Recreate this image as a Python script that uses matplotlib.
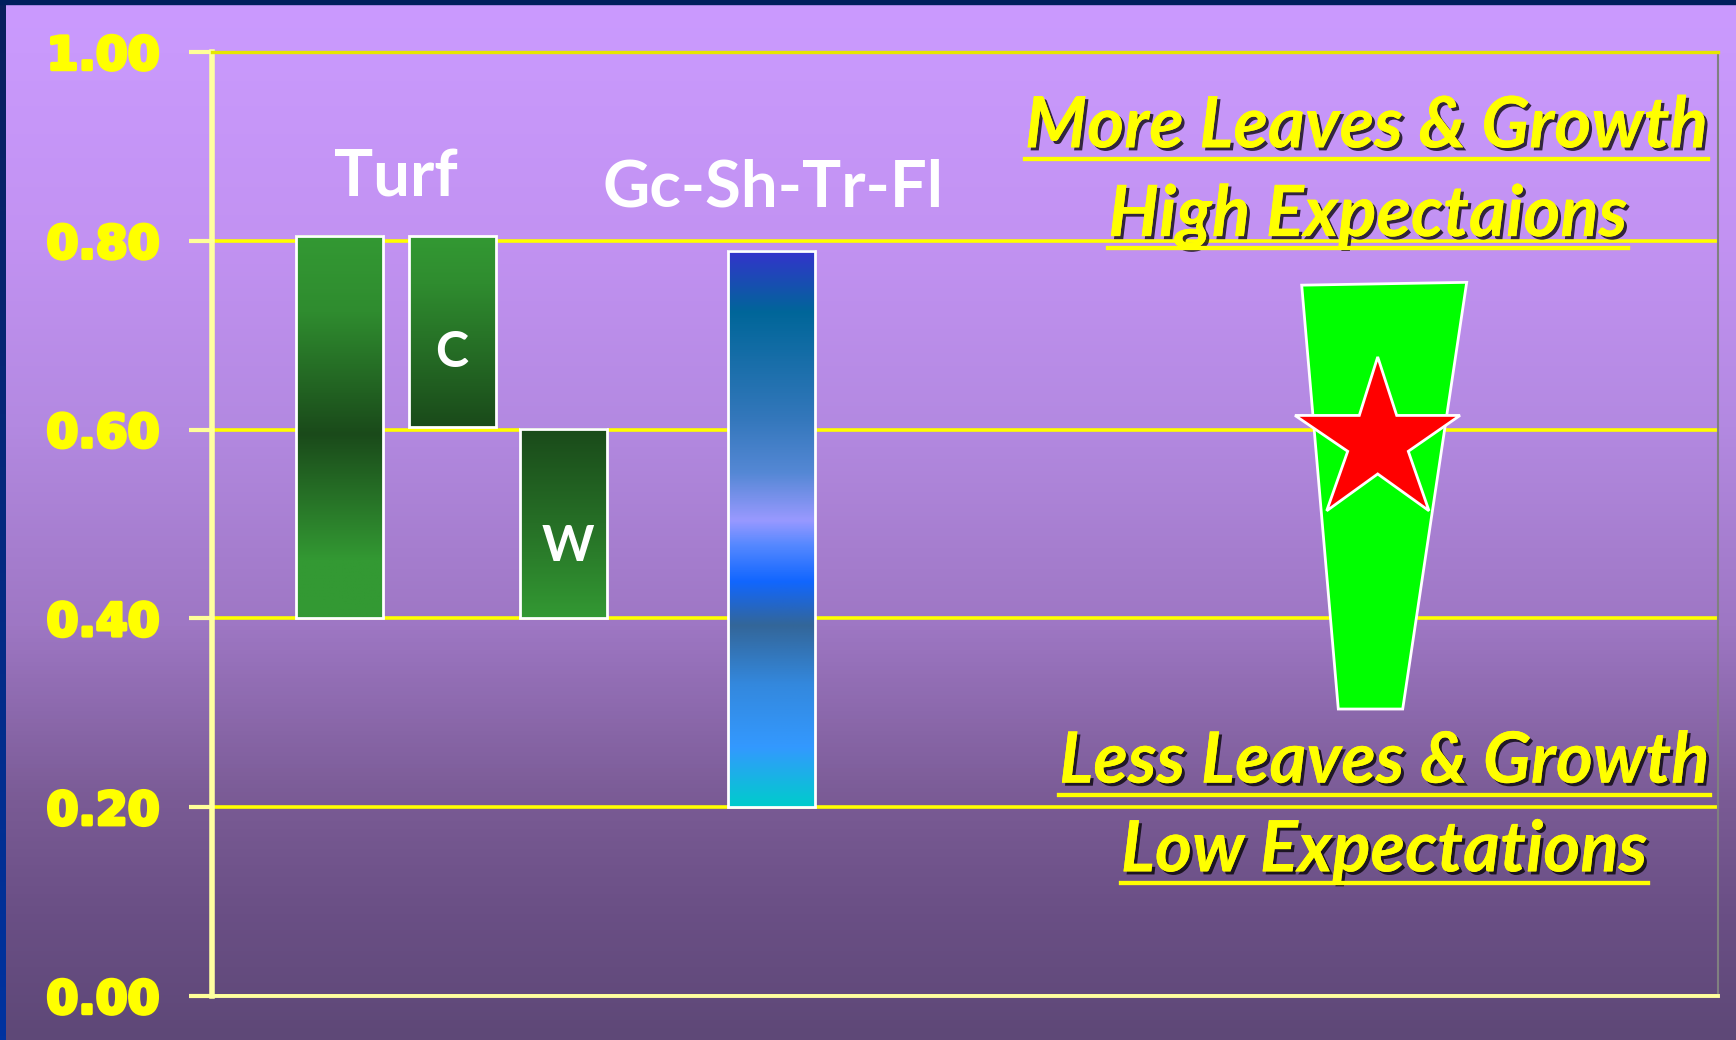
import numpy as np
import matplotlib.pyplot as plt
from matplotlib.colors import LinearSegmentedColormap
from matplotlib.patches import Polygon
from matplotlib.lines import Line2D
from matplotlib import patheffects as pe

# --- data ---
bar_names = ['Turf', 'C', 'W', 'Gc-Sh-Tr-Fl']
bar_pos = [127.8, 240, 351.5, 559.5]
bar_low = [0.40, 0.603, 0.40, 0.20]
bar_high = [0.805, 0.805, 0.601, 0.789]

# target range (trapezoid) and the star inside it
target_x = [1089.7, 1254.7, 1190.7, 1126.3]
target_y = [0.753, 0.756, 0.304, 0.304]
star_x = [1165.7, 1184.7, 1248, 1196.3, 1217, 1165.7, 1114.7, 1135.7, 1083, 1147.3]
star_y = [0.677, 0.615, 0.615, 0.577, 0.514, 0.553, 0.514, 0.577, 0.615, 0.615]

yticks = [0.0, 0.2, 0.4, 0.6, 0.8, 1.0]
ytick_labels = ['0.00', '0.20', '0.40', '0.60', '0.80', '1.00']

W, H = 1736, 1040
fig = plt.figure(figsize=(W / 100, H / 100), dpi=100)

# background gradient over the whole slide
bg = fig.add_axes([0, 0, 1, 1])
bg_cmap = LinearSegmentedColormap.from_list('bg', [
    (0.0, '#cb99ff'), (0.05, '#c999fc'), (0.23, '#c292f2'), (0.41, '#b389e1'),
    (0.60, '#9e77c4'), (0.77, '#7a5b95'), (0.88, '#6a4f85'), (1.0, '#5e4877')])
bg.imshow(np.linspace(0, 1, 256).reshape(-1, 1), cmap=bg_cmap, aspect='auto',
          extent=[0, W, H, 0])
side_cmap = LinearSegmentedColormap.from_list('side', ['#0a1f5c', '#0033a0'])
bg.imshow(np.linspace(0, 1, 256).reshape(-1, 1), cmap=side_cmap, aspect='auto',
          extent=[0, 6, H, 0])
bg.fill_between([0, W], 0, 4, color='#001e5c')
bg.set_xlim(0, W)
bg.set_ylim(H, 0)
bg.axis('off')

# main chart area
ax = fig.add_axes([212 / W, 44 / H, 1506 / W, 944 / H])
ax.patch.set_alpha(0)

green = '#339933'
dark_green = '#1a4a1a'
gradients = [
    [(0.0, green), (0.2, '#2f8c2f'), (0.52, dark_green), (0.85, green), (1.0, green)],
    [(0.0, green), (0.25, '#2f8c2f'), (1.0, dark_green)],
    [(0.0, dark_green), (0.5, '#266f26'), (1.0, green)],
    [(0.0, '#3333cc'), (0.11, '#006699'), (0.30, '#3377bb'), (0.40, '#5588d5'),
     (0.485, '#9999ff'), (0.53, '#5588ff'), (0.595, '#1166ff'), (0.674, '#336699'),
     (0.78, '#3388dd'), (0.894, '#3399ff'), (1.0, '#00cccc')],
]
width = 87
for x, lo, hi, stops in zip(bar_pos, bar_low, bar_high, gradients):
    cm = LinearSegmentedColormap.from_list('bar', stops)
    # first row of the image goes on top
    ax.imshow(np.linspace(0, 1, 256).reshape(-1, 1), cmap=cm, aspect='auto',
              origin='upper', extent=[x - width / 2, x + width / 2, lo, hi], zorder=3)
ax.bar(bar_pos, np.array(bar_high) - np.array(bar_low), bottom=bar_low,
       width=width, fill=False, edgecolor='white', linewidth=2, zorder=4)

ax.add_patch(Polygon(np.column_stack([target_x, target_y]), closed=True,
                     facecolor='#00ff00', edgecolor='white', linewidth=2, zorder=3))
ax.add_patch(Polygon(np.column_stack([star_x, star_y]), closed=True,
                     facecolor='#ff0000', edgecolor='white', linewidth=2, zorder=4))

ax.set_xlim(0, 1506)
ax.set_ylim(0, 1.0)
ax.set_xticks([])
ax.set_yticks(yticks)
ax.set_yticklabels(ytick_labels, family='DejaVu Sans', fontweight='heavy',
                   fontsize=33, color='#ffff00')
# heavier look for the tick numbers
for lab in ax.get_yticklabels():
    lab.set_path_effects([pe.withStroke(linewidth=2.5, foreground='#ffff00')])
ax.tick_params(axis='y', direction='out', length=16.6, width=3, color='#ffff99', pad=21)
ax.yaxis.grid(True, color='#ffff00', linewidth=2.6, zorder=1)
ax.set_axisbelow(True)
for side in ['left', 'bottom']:
    ax.spines[side].set_color('#ffffa0')
ax.spines['left'].set_linewidth(4)
ax.spines['bottom'].set_linewidth(2.8)
ax.spines['top'].set_color('#e6e600')
ax.spines['top'].set_linewidth(2.4)
ax.spines['right'].set_color('#808080')
ax.spines['right'].set_linewidth(1.5)

# labels on the bars
label_font = dict(family=['Lato', 'DejaVu Sans'], fontweight='bold', color='white',
                  ha='center', va='baseline', zorder=5)
ax.text(183.5, 0.847, 'Turf', fontsize=47, **label_font)
ax.text(561, 0.836, 'Gc-Sh-Tr-Fl', fontsize=47, **label_font)
ax.text(239.4, 0.666, 'C', fontsize=36, **label_font)
ax.text(355.5, 0.461, 'W', fontsize=36, **label_font)

# underlined yellow annotations with shadow
shadow = [pe.withSimplePatchShadow(offset=(2.2, -2.2), shadow_rgbFace='black', alpha=0.75),
          pe.Normal()]
notes = [
    ('More Leaves & Growth', 1154.5, 0.899),
    ('High Expectaions', 1156, 0.805),
    ('Less Leaves & Growth', 1172.5, 0.226),
    ('Low Expectations', 1172.3, 0.132),
]
renderer = fig.canvas.get_renderer()
for txt, x, y in notes:
    t = ax.text(x, y, txt, family=['Lato', 'DejaVu Sans'], fontweight='bold',
                style='italic', fontsize=51, color='#ffff00', ha='center',
                va='baseline', zorder=6, path_effects=shadow)
    bb = t.get_window_extent(renderer)
    base = ax.transData.transform((x, y))[1] - 12
    p0 = fig.transFigure.inverted().transform((bb.x0, base))
    p1 = fig.transFigure.inverted().transform((bb.x1, base))
    fig.add_artist(Line2D([p0[0], p1[0]], [p0[1], p1[1]], color='#ffff00',
                          linewidth=3, zorder=6, path_effects=shadow))

fig.savefig('out.png', dpi=100)
